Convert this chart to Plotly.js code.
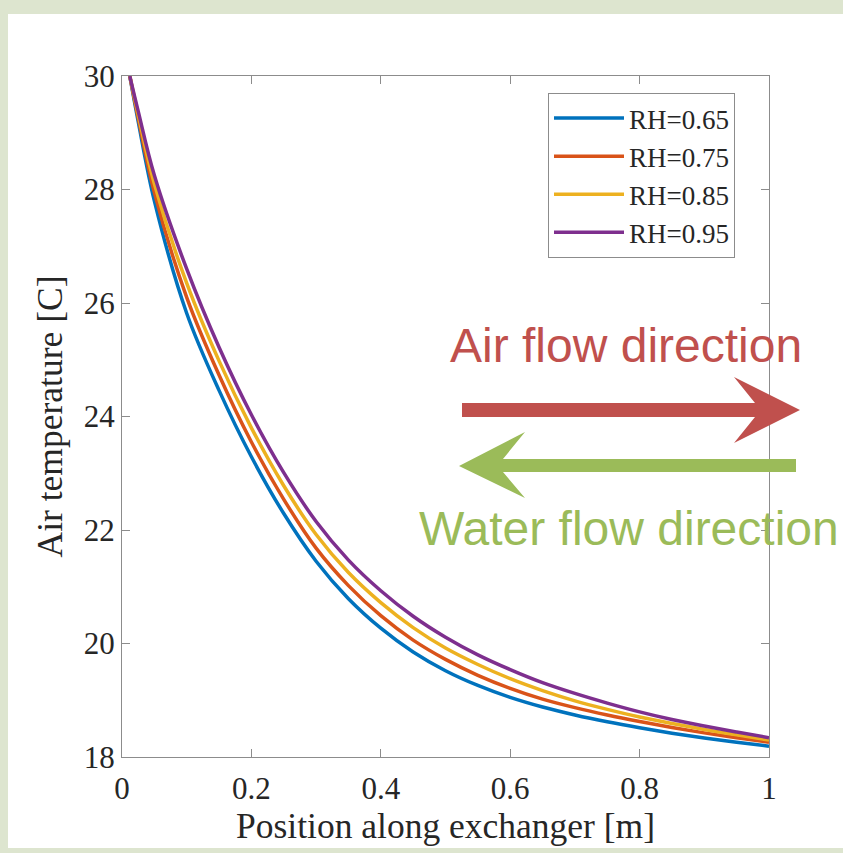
<!DOCTYPE html>
<html>
<head>
<meta charset="utf-8">
<script src="https://cdn.plot.ly/plotly-3.0.1.min.js"></script>
<style>
  html, body { margin: 0; padding: 0; background: #dde5cf; width: 843px; height: 853px; overflow: hidden; }
  #card { position: absolute; left: 8px; top: 14px; width: 835px; height: 834px; background: #ffffff; }
  #chart { position: absolute; left: 0; top: 0; width: 843px; height: 853px; }
</style>
</head>
<body>
<div id="card"></div>
<div id="chart"></div>
<script>
// Position along exchanger [m]
const position = [0.012, 0.025, 0.05, 0.1, 0.15, 0.2, 0.25, 0.3, 0.35, 0.4, 0.45, 0.5, 0.55, 0.6, 0.65, 0.7, 0.75, 0.8, 0.85, 0.9, 0.95, 1.0];
// Air temperature [C] for each relative humidity
const rh065 = [30.0, 29.20, 27.80, 25.82, 24.46, 23.29, 22.29, 21.45, 20.79, 20.27, 19.85, 19.52, 19.26, 19.05, 18.88, 18.74, 18.62, 18.515, 18.42, 18.335, 18.26, 18.19];
const rh075 = [30.0, 29.26, 27.95, 26.10, 24.73, 23.55, 22.54, 21.68, 21.02, 20.49, 20.06, 19.72, 19.44, 19.21, 19.02, 18.87, 18.74, 18.625, 18.52, 18.425, 18.34, 18.26];
const rh085 = [30.0, 29.32, 28.10, 26.35, 24.98, 23.80, 22.78, 21.92, 21.25, 20.72, 20.28, 19.92, 19.63, 19.38, 19.17, 18.99, 18.84, 18.705, 18.59, 18.485, 18.39, 18.30];
const rh095 = [30.0, 29.38, 28.25, 26.60, 25.22, 24.03, 23.01, 22.15, 21.47, 20.93, 20.48, 20.11, 19.80, 19.54, 19.31, 19.12, 18.95, 18.795, 18.66, 18.545, 18.44, 18.34];
const seriesNames = ['RH=0.65', 'RH=0.75', 'RH=0.85', 'RH=0.95'];
const seriesValues = [rh065, rh075, rh085, rh095];
const seriesColors = ['#0072BD', '#D95319', '#EDB120', '#7E2F8E'];
const xTicks = [0, 0.2, 0.4, 0.6, 0.8, 1];
const xTickLabels = ['0', '0.2', '0.4', '0.6', '0.8', '1'];
const yTicks = [18, 20, 22, 24, 26, 28, 30];

const W = 843, H = 853;
const M = { l: 122, r: 74, t: 76, b: 96 };
const pw = W - M.l - M.r, ph = H - M.t - M.b;
function px(x) { return (x - M.l) / pw; }
function py(y) { return (H - M.b - y) / ph; }
function pathFrom(pts) {
  return 'M' + pts.map(p => px(p[0]).toFixed(5) + ',' + py(p[1]).toFixed(5)).join(' L') + ' Z';
}

const traces = seriesValues.map((vals, i) => ({
  x: position,
  y: vals,
  type: 'scatter',
  mode: 'lines',
  name: seriesNames[i],
  line: { color: seriesColors[i], width: 3.5, shape: 'spline', smoothing: 1 }
}));

const serif = 'Liberation Serif, Times New Roman, serif';
const axisCommon = {
  showgrid: false,
  zeroline: false,
  showline: true,
  linecolor: '#8c8c8c',
  linewidth: 1,
  mirror: 'ticks',
  ticks: 'inside',
  ticklen: 8,
  tickcolor: '#8c8c8c',
  tickfont: { family: serif, size: 31, color: '#262626' }
};

const redArrow = [[462,403],[755,403],[734,377],[800,410],[734,443],[755,417],[462,417]];
const greenArrow = [[796,459],[503,459],[525,432],[459,466],[525,498],[503,472],[796,472]];

const layout = {
  width: W, height: H,
  margin: M,
  paper_bgcolor: 'rgba(0,0,0,0)',
  plot_bgcolor: 'rgba(0,0,0,0)',
  showlegend: true,
  xaxis: Object.assign({}, axisCommon, {
    range: [0, 1],
    tickvals: xTicks,
    ticktext: xTickLabels,
    ticklabelstandoff: 4,
    title: { text: 'Position along exchanger [m]', font: { family: serif, size: 35.5, color: '#262626' }, standoff: 6 }
  }),
  yaxis: Object.assign({}, axisCommon, {
    range: [18, 30],
    tickvals: yTicks,
    title: { text: 'Air temperature [C]', font: { family: serif, size: 35.5, color: '#262626' }, standoff: 10 }
  }),
  legend: {
    x: px(548), y: py(93), xanchor: 'left', yanchor: 'top',
    bgcolor: '#ffffff', bordercolor: '#8c8c8c', borderwidth: 1,
    font: { family: serif, size: 27, color: '#262626' },
    itemwidth: 70,
    tracegroupgap: 0
  },
  shapes: [
    { type: 'path', xref: 'paper', yref: 'paper', path: pathFrom(redArrow), fillcolor: '#c0504d', line: { width: 0 }, layer: 'above' },
    { type: 'path', xref: 'paper', yref: 'paper', path: pathFrom(greenArrow), fillcolor: '#9bbb59', line: { width: 0 }, layer: 'above' }
  ],
  annotations: [
    { xref: 'paper', yref: 'paper', x: px(626), y: py(345), text: 'Air flow direction', showarrow: false,
      xanchor: 'center', yanchor: 'middle',
      font: { family: 'Liberation Sans, Arial, sans-serif', size: 48, color: '#c0504d' } },
    { xref: 'paper', yref: 'paper', x: px(629), y: py(528), text: 'Water flow direction', showarrow: false,
      xanchor: 'center', yanchor: 'middle',
      font: { family: 'Liberation Sans, Arial, sans-serif', size: 48, color: '#9bbb59' } }
  ]
};

Plotly.newPlot('chart', traces, layout, { displayModeBar: false, staticPlot: true });
</script>
</body>
</html>
